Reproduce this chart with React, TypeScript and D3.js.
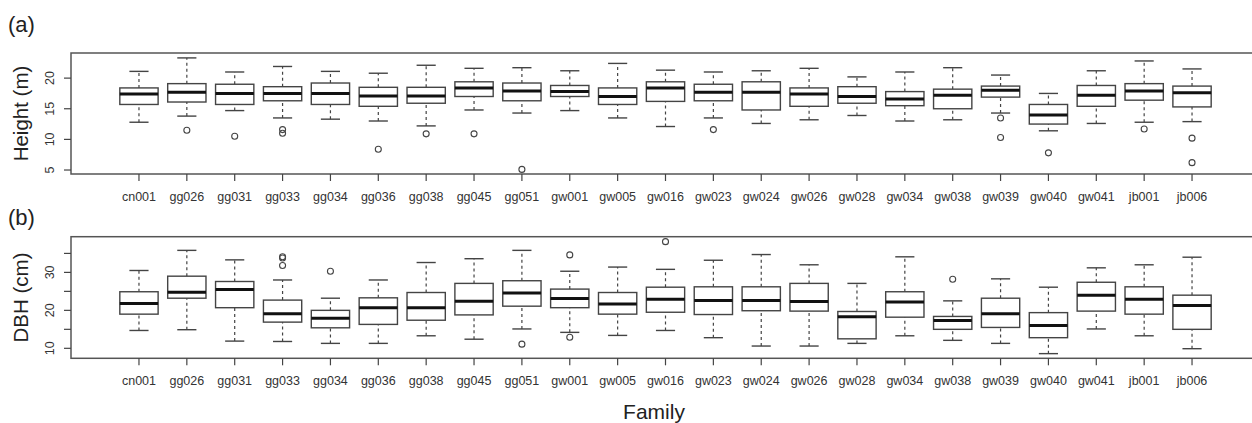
import React, { useRef, useEffect } from 'react';
import * as d3 from 'd3';

const families = ['cn001', 'gg026', 'gg031', 'gg033', 'gg034', 'gg036', 'gg038', 'gg045', 'gg051', 'gw001', 'gw005', 'gw016', 'gw023', 'gw024', 'gw026', 'gw028', 'gw034', 'gw038', 'gw039', 'gw040', 'gw041', 'jb001', 'jb006'];

// [lower whisker, q1, median, q3, upper whisker]
const heightStats = [
    [12.8, 15.7, 17.4, 18.4, 21.1],
    [13.8, 16.1, 17.7, 19.1, 23.3],
    [14.7, 15.7, 17.5, 19.0, 21.0],
    [13.5, 16.3, 17.5, 18.6, 21.9],
    [13.3, 15.7, 17.5, 19.2, 21.1],
    [13.0, 15.4, 17.1, 18.5, 20.8],
    [12.2, 15.9, 17.1, 18.5, 22.1],
    [14.8, 17.0, 18.4, 19.4, 21.6],
    [14.3, 16.3, 17.9, 19.2, 21.7],
    [14.7, 17.0, 17.8, 18.8, 21.2],
    [13.5, 15.7, 17.0, 18.4, 22.4],
    [12.1, 16.2, 18.4, 19.4, 21.3],
    [13.5, 16.3, 17.7, 19.0, 21.0],
    [12.6, 14.8, 17.7, 19.4, 21.2],
    [13.2, 15.4, 17.4, 18.4, 21.6],
    [13.9, 15.9, 17.0, 18.6, 20.2],
    [13.0, 15.5, 16.6, 17.8, 21.0],
    [13.2, 15.0, 17.2, 18.2, 21.7],
    [14.3, 16.9, 18.0, 18.7, 20.5],
    [11.4, 12.5, 14.0, 15.7, 17.5],
    [12.6, 15.4, 17.2, 18.8, 21.2],
    [12.8, 16.4, 17.9, 19.1, 22.8],
    [12.9, 15.3, 17.6, 18.7, 21.5],
];
const heightOutliers = [
    [], [11.5], [10.5], [11.6, 11.0], [], [8.4], [10.9], [10.9], [5.1], [], [], [], [11.6], [], [], [], [], [], [13.5, 10.3], [7.8], [], [11.7], [10.2, 6.2],
];

const dbhStats = [
    [14.7, 19.0, 21.8, 24.9, 30.5],
    [14.9, 23.2, 24.8, 29.0, 35.8],
    [11.9, 20.7, 25.5, 27.6, 33.3],
    [11.8, 16.9, 19.1, 22.7, 28.0],
    [11.3, 15.4, 17.9, 20.0, 23.2],
    [11.3, 16.3, 20.7, 23.3, 28.0],
    [13.3, 17.4, 20.7, 24.7, 32.6],
    [12.4, 18.8, 22.4, 27.1, 33.6],
    [15.1, 21.1, 24.6, 27.8, 35.8],
    [14.2, 20.7, 23.1, 25.6, 30.3],
    [13.4, 19.0, 21.7, 24.7, 31.4],
    [14.7, 19.5, 22.9, 26.1, 30.8],
    [12.8, 18.9, 22.6, 26.2, 33.2],
    [10.6, 19.9, 22.6, 26.2, 34.7],
    [10.6, 19.8, 22.3, 27.1, 32.0],
    [11.3, 12.5, 18.3, 19.7, 27.1],
    [13.3, 18.2, 22.2, 24.9, 34.1],
    [12.1, 15.0, 17.3, 18.4, 22.5],
    [11.3, 15.5, 19.1, 23.2, 28.3],
    [8.6, 12.8, 16.0, 19.4, 26.1],
    [15.1, 19.8, 24.0, 27.4, 31.2],
    [13.3, 19.0, 22.9, 26.2, 32.0],
    [9.9, 15.0, 21.3, 24.0, 34.0],
];
const dbhOutliers = [
    [], [], [], [34.1, 33.8, 31.8], [30.3], [], [], [], [11.1], [34.6, 12.9], [], [38.1], [], [], [], [], [], [28.2], [], [], [], [], [],
];

const heightTicks = [5, 10, 15, 20];
const dbhTicks = [10, 15, 20, 25, 30, 35];
const dbhTickLabels = [10, 20, 30];

const W = 1252;
const H = 423;
const font = '"Liberation Sans", Arial, sans-serif';
const grey = '#444';

const drawPanel = (svg, opts) => {
    const { top, bottom, domain, stats, outliers, ticks, tickLabels, title, tag, tagY } = opts;
    const x = d3.scaleLinear().domain([-0.42, 24.42]).range([71, 1260]);
    const y = d3.scaleLinear().domain(domain).range([bottom, top]);
    const g = svg.append('g');
    const bw = 0.4;

    const boxes = g.selectAll('g.box')
        .data(families.map((f, i) => ({ f, i, s: stats[i], o: outliers[i] })))
        .join('g')
        .attr('class', 'box');

    // whiskers
    boxes.append('line')
        .attr('x1', d => x(d.i + 1)).attr('x2', d => x(d.i + 1))
        .attr('y1', d => y(d.s[0])).attr('y2', d => y(d.s[1]))
        .attr('stroke', grey).attr('stroke-width', 1.2).attr('stroke-dasharray', '3,3');
    boxes.append('line')
        .attr('x1', d => x(d.i + 1)).attr('x2', d => x(d.i + 1))
        .attr('y1', d => y(d.s[3])).attr('y2', d => y(d.s[4]))
        .attr('stroke', grey).attr('stroke-width', 1.2).attr('stroke-dasharray', '3,3');
    // staples
    [0, 4].forEach(k => {
        boxes.append('line')
            .attr('x1', d => x(d.i + 1 - bw / 2)).attr('x2', d => x(d.i + 1 + bw / 2))
            .attr('y1', d => y(d.s[k])).attr('y2', d => y(d.s[k]))
            .attr('stroke', grey).attr('stroke-width', 1.4);
    });
    // box
    boxes.append('rect')
        .attr('x', d => x(d.i + 1 - bw))
        .attr('width', d => x(d.i + 1 + bw) - x(d.i + 1 - bw))
        .attr('y', d => y(d.s[3]))
        .attr('height', d => y(d.s[1]) - y(d.s[3]))
        .attr('fill', 'white').attr('stroke', grey).attr('stroke-width', 1.4);
    // median
    boxes.append('line')
        .attr('x1', d => x(d.i + 1 - bw)).attr('x2', d => x(d.i + 1 + bw))
        .attr('y1', d => y(d.s[2])).attr('y2', d => y(d.s[2]))
        .attr('stroke', '#111').attr('stroke-width', 3);
    // outliers
    boxes.selectAll('circle')
        .data(d => d.o.map(v => ({ i: d.i, v })))
        .join('circle')
        .attr('cx', d => x(d.i + 1)).attr('cy', d => y(d.v)).attr('r', 3)
        .attr('fill', 'none').attr('stroke', grey).attr('stroke-width', 1.1);

    // frame
    g.append('rect')
        .attr('x', x.range()[0]).attr('y', top)
        .attr('width', x.range()[1] - x.range()[0]).attr('height', bottom - top)
        .attr('fill', 'none').attr('stroke', '#555').attr('stroke-width', 1.5);

    // x axis ticks + labels
    families.forEach((f, i) => {
        g.append('line')
            .attr('x1', x(i + 1)).attr('x2', x(i + 1))
            .attr('y1', bottom).attr('y2', bottom + 7)
            .attr('stroke', grey).attr('stroke-width', 1.2);
        g.append('text')
            .attr('x', x(i + 1)).attr('y', bottom + 27)
            .attr('text-anchor', 'middle')
            .attr('font-family', font).attr('font-size', '12.5px').attr('fill', '#333')
            .text(f);
    });

    // y axis ticks + labels
    ticks.forEach(t => {
        g.append('line')
            .attr('x1', 64).attr('x2', 71)
            .attr('y1', y(t)).attr('y2', y(t))
            .attr('stroke', grey).attr('stroke-width', 1.2);
    });
    tickLabels.forEach(t => {
        g.append('text')
            .attr('transform', `translate(54,${y(t)}) rotate(-90)`)
            .attr('text-anchor', 'middle')
            .attr('font-family', font).attr('font-size', '12.5px').attr('fill', '#333')
            .text(t);
    });

    // y title
    g.append('text')
        .attr('transform', `translate(28,${(top + bottom) / 2}) rotate(-90)`)
        .attr('text-anchor', 'middle')
        .attr('font-family', font).attr('font-size', '20.5px').attr('fill', '#222')
        .text(title);

    // panel tag
    g.append('text')
        .attr('x', 8).attr('y', tagY)
        .attr('font-family', font).attr('font-size', '22px').attr('fill', '#222')
        .text(tag);
};

const App = () => {
    const svgRef = useRef();

    useEffect(() => {
        const svg = d3.select(svgRef.current);
        svg.selectAll('*').remove();

        drawPanel(svg, {
            top: 53, bottom: 174, domain: [4.35, 24.1],
            stats: heightStats, outliers: heightOutliers,
            ticks: heightTicks, tickLabels: heightTicks,
            title: 'Height (m)', tag: '(a)', tagY: 32,
        });
        drawPanel(svg, {
            top: 236.7, bottom: 358.3, domain: [7.37, 39.4],
            stats: dbhStats, outliers: dbhOutliers,
            ticks: dbhTicks, tickLabels: dbhTickLabels,
            title: 'DBH (cm)', tag: '(b)', tagY: 225,
        });

        svg.append('text')
            .attr('x', 654).attr('y', 419)
            .attr('text-anchor', 'middle')
            .attr('font-family', font).attr('font-size', '21px').attr('fill', '#222')
            .text('Family');
    }, []);

    return (
        <svg ref={svgRef} width={W} height={H}
            style={{ position: 'absolute', left: 0, top: 0, background: 'white' }} />
    );
};

export default App;
